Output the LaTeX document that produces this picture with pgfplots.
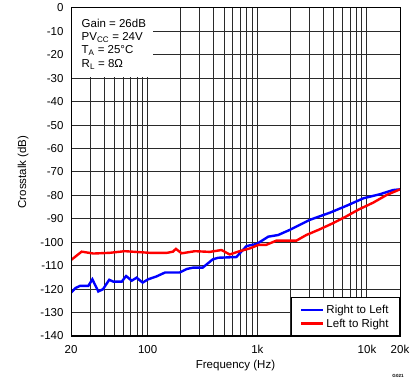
\documentclass[border=0pt]{standalone}
\usepackage{pgfplots}
\pgfplotsset{compat=1.18}
\usepackage{fontspec}
\setmainfont{Liberation Sans}
\definecolor{gridc}{HTML}{2A2A2A}
\pgfplotstableread{
f db
20 -121.5
22 -119.5
24.2 -118.6
28.8 -118.6
31.3 -115.8
35.5 -121
39.2 -120
44.6 -116
48.7 -116.8
58 -116.8
63.6 -114.4
71.6 -116.4
79.3 -115.1
90 -117.2
101 -115.8
120 -114.6
144 -112.9
196 -112.9
227 -111.4
261 -110.8
318 -110.8
392 -107.3
440 -106.6
644 -106.3
797 -101.6
988 -100.7
1259 -97.6
1547 -96.9
1978 -94.7
3020 -90.4
4630 -87.3
6515 -84.4
9300 -81.2
13080 -79.5
17300 -77.7
20000 -77.4
}\bluedata
\pgfplotstableread{
f db
20 -107.6
25 -104
32 -104.8
45 -104.5
62 -103.8
105 -104.5
150 -104.5
170 -104
181 -102.8
204 -104.7
270 -103.8
369 -104.1
471 -103.3
560 -105.2
690 -103.8
856 -102.6
1025 -101.1
1206 -101.1
1490 -99.3
2270 -99.3
2795 -96.9
3694 -94.5
4870 -91.9
6380 -89.1
8400 -86
11370 -83.1
15120 -79.8
20000 -77.4
}\reddata
\begin{document}
\begin{tikzpicture}
\begin{axis}[
  name=ax,
  scale only axis,
  width=329pt, height=328pt,
  xmode=log,
  xmin=20, xmax=20000,
  ymin=-140, ymax=0,
  xtick={20,100,1000,10000,20000},
  xticklabels={20,100,1k,10k,20k},
  minor xtick={30,40,50,60,70,80,90,200,300,400,500,600,700,800,900,2000,3000,4000,5000,6000,7000,8000,9000},
  ytick={-140,-130,...,0},
  yticklabels={-140,-130,-120,-110,-100,-90,-80,-70,-60,-50,-40,-30,-20,-10,0},
  grid=both,
  major grid style={draw=gridc, line width=1pt},
  minor grid style={draw=gridc, line width=1pt},
  major tick length=0pt, minor tick length=0pt,
  axis line style={line width=1pt, black},
  tick label style={font=\fontsize{11.5}{13}\selectfont},
  xticklabel style={yshift=-6pt},
  yticklabel style={xshift=-4pt},
  label style={font=\fontsize{11.5}{13}\selectfont},
  xlabel={Frequency (Hz)},
  ylabel={Crosstalk (dB)},
  xlabel style={yshift=1pt},
  ylabel style={yshift=5pt},
  legend style={at={(rel axis cs:1,0)}, anchor=south east, draw=black, line width=1pt,
    font=\fontsize{11.5}{13}\selectfont, inner xsep=9pt, inner ysep=5pt, row sep=0pt, cells={anchor=west}},
  legend image code/.code={\draw[#1] (0pt,0pt) -- (22pt,0pt);},
  legend cell align=left,
]
\addplot[blue, line width=2.4pt] table[x=f, y=db] {\bluedata};
\addlegendentry{Right to Left}
\addplot[red, line width=2.4pt] table[x=f, y=db] {\reddata};
\addlegendentry{Left to Right}
\fill[white] (axis cs:20,-29.5) rectangle (axis cs:112,0);
\draw[black, line width=1pt] (rel axis cs:0,0) rectangle (rel axis cs:1,1);
\draw[black, line width=2pt] (axis cs:20,-140) -- (axis cs:20,-30);
\draw[black, line width=2pt] (axis cs:20,-140) -- (axis cs:20000,-140);
\node[anchor=west, align=left, font=\fontsize{11.5}{13.3}\selectfont, inner sep=0pt] at ([xshift=10.5pt,yshift=-36pt]rel axis cs:0,1)
  {Gain = 26dB\\PV\textsubscript{CC} = 24V\\T\textsubscript{A} = 25°C\\R\textsubscript{L} = 8Ω};
\end{axis}
\node[font=\bfseries\fontsize{4.5}{5}\selectfont, inner sep=0pt] at ([xshift=-2pt,yshift=-40pt]ax.south east) {G021};
\pgfresetboundingbox
\path ([shift={(-71pt,-46pt)}]ax.south west) rectangle ([shift={(19pt,8pt)}]ax.north east);
\end{tikzpicture}
\end{document}
